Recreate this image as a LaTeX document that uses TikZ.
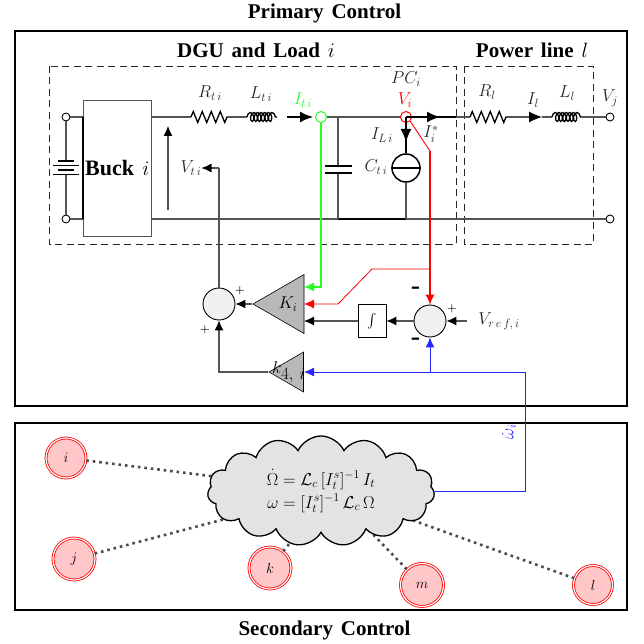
\documentclass[tikz,border=0pt]{standalone}
\usepackage{amsmath, amssymb}
\usepackage{fontspec}
\usepackage{xcolor}
\usetikzlibrary{arrows.meta,shapes.geometric,shapes.symbols,decorations.pathmorphing}
\newfontfamily\headfont[WordSpace=1.5]{Liberation Serif}
\definecolor{wiregray}{gray}{0.33}
\definecolor{mygreen}{rgb}{0.15,1,0.15}
\definecolor{myblue}{rgb}{0.15,0.15,1}
\tikzset{
  wire/.style={draw=wiregray,line width=1.05pt},
  fatwire/.style={draw=black,line width=1.6pt},
  tip/.style={-{Latex[length=10pt,width=9pt]}},
  blacktip/.style={-{Latex[length=10pt,width=9pt,color=black]}},
  bigtip/.style={-{Latex[length=13pt,width=11pt,color=black]}},
  frame/.style={draw=black,line width=1.7pt},
  dashbox/.style={draw=black!85,line width=0.9pt,dash pattern=on 7pt off 4.5pt},
  terminal/.style={circle,draw=black,fill=white,line width=0.9pt,minimum size=8pt,inner sep=0pt},
  probe/.style={circle,line width=1pt,minimum size=11pt,inner sep=0pt},
  adder/.style={circle,draw=black,fill=black!6,line width=0.9pt,minimum size=32pt,inner sep=0pt},
  gain/.style={draw=black,fill=black!28,line width=0.6pt},
  agent/.style={circle,double,draw=red,fill=red!22,line width=0.8pt,double distance=1.2pt,inner sep=0pt,font=\fontsize{14}{16}\selectfont},
  gossip/.style={draw=black!70,line width=2.6pt,dash pattern=on 2.6pt off 3.9pt},
  head/.style={font=\headfont\bfseries\fontsize{21}{24}\selectfont},
  lab/.style={font=\fontsize{17}{19}\selectfont,text=black!85,inner sep=0pt},
  sign/.style={font=\bfseries\fontsize{11}{12}\selectfont,inner sep=0pt},
  res/.style={decorate,decoration={zigzag,segment length=9pt,amplitude=5.5pt},line width=1.3pt},
  ind/.style={decorate,decoration={coil,aspect=0.55,segment length=3.6pt,amplitude=4.5pt},line width=1.3pt}
}
\begin{document}
\begin{tikzpicture}[x=1pt,y=-1pt]
\useasboundingbox (0,0) rectangle (644,644);
% frames
\draw[frame] (15,31) rectangle (627,406);
\draw[frame] (15,423) rectangle (627,610);
\node[head] (primary) at (324.5,13) {Primary Control};
\node[head] (secondary) at (324.5,630) {Secondary Control};
\node[head] (dgu) at (256,50) {DGU and Load $i$};
\node[head] (line) at (532,50) {Power line $l$};
\draw[dashbox] (49,66) rectangle (456,244);
\draw[dashbox] (464,66) rectangle (593,244);
% source side
\node[terminal] (t1) at (66,117) {};
\node[terminal] (t2) at (66,219) {};
\node[draw=wiregray,line width=0.8pt,minimum width=68pt,minimum height=136pt,inner sep=0pt] (buck) at (117,168) {};
\node[head,inner sep=0pt,anchor=west] (bucklabel) at (85,168) {\fontsize{22}{24}\selectfont Buck $i$};
\draw[wire] (t1) -- (66,161) (66,174) -- (t2);
\draw[wire] (t1) -- (83,117) (t2) -- (83,219);
\draw[line width=1.3pt] (83,117) -- (83,219);
\draw[line width=1.3pt] (58,161) -- (74,161) (53,165.5) -- (79,165.5) (58,170) -- (74,170) (53,174.5) -- (79,174.5);
% top rail
\draw[wire] (151,117) -- (191,117);
\draw[res] (191,117) -- (230,117);
\node[lab] (rti) at (210,93) {$R_{t\,i}$};
\draw[wire] (230,117) -- (247,117);
\draw[ind] (247,117) -- (277,117);
\node[lab] (lti) at (261,94) {$L_{t\,i}$};
\draw[fatwire,bigtip] (287,117) -- (313,117);
\node[probe,draw=mygreen] (iti) at (321,117) {};
\node[lab,text=mygreen] (itilabel) at (303,100) {$I_{t\,i}$};
\draw[wire] (iti) -- (401,117);
\node[probe,draw=red] (vi) at (406,117) {};
\node[lab,text=red] (vilabel) at (405,100) {$V_i$};
\node[lab] (pc) at (406,79) {$PC_i$};
\draw[fatwire,bigtip] (406,117) -- (440,117);
\draw[fatwire] (436,117) -- (456,117);
\draw[wire] (456,117) -- (470,117);
\draw[res] (470,117) -- (507,117);
\node[lab] (rl) at (487,92) {$R_l$};
\draw[wire,bigtip] (507,117) -- (542,117);
\node[lab] (il) at (533,100) {$I_l$};
\draw[wire] (542,117) -- (552,117);
\draw[ind] (552,117) -- (583,117);
\node[lab] (ll) at (567,93) {$L_l$};
\node[terminal] (t3) at (610,117) {};
\node[lab] (vj) at (610,98) {$V_j$};
\draw[wire] (583,117) -- (t3);
% bottom rail
\node[terminal] (t4) at (610,219) {};
\draw[wire] (151,219) -- (t4);
\draw[fatwire] (338,219) -- (406,219);
% voltage arrow
\draw[wire,blacktip] (168,210) -- (168,126);
\node[lab] (vti) at (191,168) {$V_{t\,i}$};
\coordinate (vtifoot) at (219,168);
\draw[wire,blacktip] (vtifoot) -- (vti.east);
% capacitor
\draw[wire] (338,117) -- (338,166) (338,173) -- (338,219);
\draw[line width=1.3pt] (325,166) -- (352,166) (325,173) -- (352,173);
\node[lab] (cti) at (376,167) {$C_{t\,i}$};
% load
\node[circle,draw=black,line width=1.5pt,minimum size=28pt,inner sep=0pt] (load) at (406,168) {};
\draw[line width=1.3pt] (load.west) -- (load.east);
\draw[fatwire,bigtip] (406,117) -- (406,142);
\draw[fatwire] (406,138) -- (load.north);
\draw[wire] (load.south) -- (406,219);
\node[lab] (ili) at (382,135) {$I_{L\,i}$};
\node[lab] (istar) at (431,134) {$I_i^*$};
% control blocks
\node[adder] (sumk) at (219,304) {};
\node[adder] (sumint) at (430,321) {};
\node[regular polygon,regular polygon sides=3,shape border rotate=90,gain,minimum size=68pt,inner sep=0pt,anchor=center] (ki) at (287,304) {};
\node[lab,text=black] (kilabel) at (288,304) {$K_i$};
\node[regular polygon,regular polygon sides=3,shape border rotate=90,gain,minimum size=46pt,inner sep=0pt,anchor=center] (k4) at (292,372) {};
\node[draw=black,line width=0.8pt,minimum width=28pt,minimum height=33pt,inner sep=0pt,font=\fontsize{14}{16}\selectfont] (int) at (372,321) {$\int$};
\coordinate (refend) at (467,321);
\node[lab] (vref) at (499,321) {$V_{r\,e\,f,\,i}$};
\draw[wire,blacktip] (refend) -- (sumint.east);
\draw[wire,blacktip] (sumint.west) -- (int.east);
\draw[wire,blacktip] (int.west) -- (304,321);
\draw[wire,blacktip] (ki.west) -- (sumk.east);
\draw[wire] (vtifoot) -- (sumk.north);
\draw[wire,blacktip] (k4.west) -| (sumk.south);
\node[lab,text=black,font=\fontsize{19}{21}\selectfont,anchor=west] (k4label) at (272,372) {$k_{\textstyle 4,\,i}$};
\node[sign] (p1) at (240,291) {+};
\node[sign] (p2) at (205,330) {+};
\node[sign] (p3) at (452,309) {+};
\node[sign,font=\bfseries\fontsize{24}{26}\selectfont] (m1) at (416,290) {-};
\node[sign,font=\bfseries\fontsize{24}{26}\selectfont] (m2) at (416,341) {-};
% green measurement
\draw[mygreen,line width=1.1pt,tip] (iti.south) |- (304,287);
% red measurement
\draw[red,line width=0.9pt] (vi.south east) -- (430,151);
\draw[red,line width=1.1pt,tip] (430,151) -- (sumint.north);
\draw[red,line width=0.8pt,tip] (430,269) -- (372,269) -- (338,304) -- (304,304);
% secondary layer
\node[agent,minimum width=37pt,minimum height=40pt] (i) at (66,458) {$i$};
\node[agent,minimum width=38pt,minimum height=42pt] (j) at (74,559) {$j$};
\node[agent,minimum width=39pt,minimum height=42pt] (k) at (270,568) {$k$};
\node[agent,minimum width=41pt,minimum height=43pt] (m) at (422,585) {$m$};
\node[agent,minimum width=37pt,minimum height=39pt] (l) at (593,585) {$l$};
\coordinate (hub) at (331,491);
\foreach \agentname in {i,j,k,m,l}
  \draw[gossip] (\agentname) -- (hub);
\node[cloud,draw=black,fill=black!11,line width=1.3pt,cloud puffs=15,cloud puff arc=130,aspect=2,minimum width=227pt,minimum height=110pt,inner sep=0pt,align=center,font=\fontsize{17}{23}\selectfont] (cloud) at (321,491)
  {$\dot{\Omega}=\mathcal{L}_c\,[I_t^s]^{-1}\,I_t$\\$\omega=[I_t^s]^{-1}\,\mathcal{L}_c\,\Omega$};
% blue signal
\coordinate (blueturn) at (525,491);
\coordinate (bluetop) at (525,372);
\coordinate (bluetee) at (430,372);
\draw[myblue,line width=1pt,tip] (cloud.east) -- (blueturn) -- (bluetop) -- (304,372);
\draw[myblue,line width=1pt,tip] (bluetee) -- (sumint.south);
\node[lab,text=myblue,rotate=90] (omega) at (509,432) {$\dot{\omega}_i$};
\end{tikzpicture}
\end{document}
